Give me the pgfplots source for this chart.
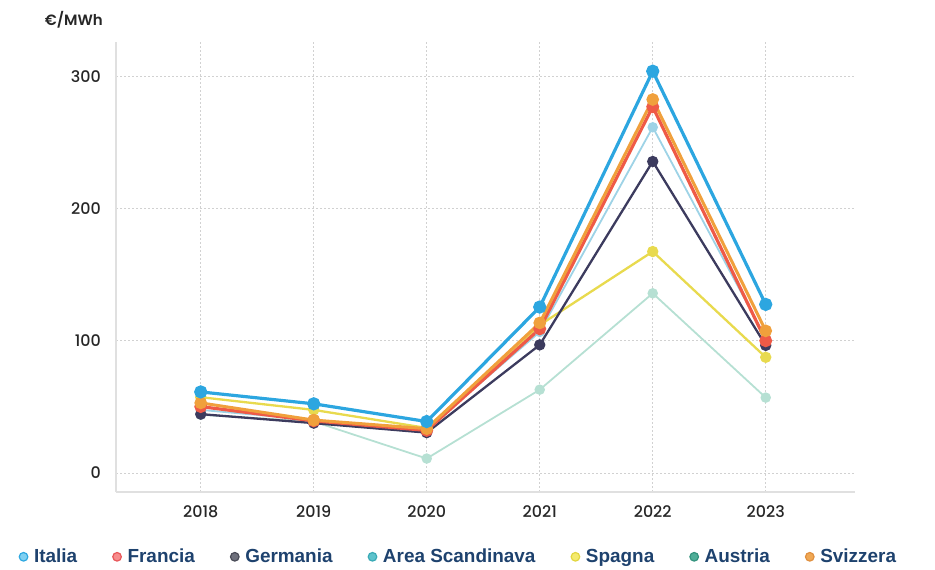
\documentclass[border=0pt]{standalone}
\usepackage{fontspec}
\setmainfont{Poppins}[UprightFont=* Medium, BoldFont=* SemiBold]
\newfontfamily\legfont{Liberation Sans}
\usepackage{pgfplots}
\pgfplotsset{compat=1.18}
\definecolor{cIt}{HTML}{2CA6E0}
\definecolor{cFr}{HTML}{EF5A47}
\definecolor{cDe}{HTML}{3C3B5E}
\definecolor{cSc}{HTML}{9ED3E6}
\definecolor{cEs}{HTML}{E8DA4E}
\definecolor{cAt}{HTML}{B6E0D3}
\definecolor{cCh}{HTML}{F0A03C}
\definecolor{lIt}{HTML}{7FD0F2}\definecolor{dIt}{HTML}{2FA8E0}
\definecolor{lFr}{HTML}{F78C8C}\definecolor{dFr}{HTML}{E8575A}
\definecolor{lDe}{HTML}{6E707C}\definecolor{dDe}{HTML}{4A4C58}
\definecolor{lSc}{HTML}{5EC3CC}\definecolor{dSc}{HTML}{3AAAB6}
\definecolor{lEs}{HTML}{F4EA6E}\definecolor{dEs}{HTML}{E2D640}
\definecolor{lAt}{HTML}{4FAE98}\definecolor{dAt}{HTML}{34937E}
\definecolor{lCh}{HTML}{F0A854}\definecolor{dCh}{HTML}{E09040}
\definecolor{cLeg}{HTML}{1E426E}
\begin{document}
\begin{tikzpicture}
\path[use as bounding box] (0,0) rectangle (935bp,570bp);
\begin{axis}[
  at={(116bp,78bp)}, anchor=south west,
  scale only axis, width=739bp, height=450bp,
  xmin=2017.25, xmax=2023.79, ymin=-14.4, ymax=326,
  xtick={2018,2019,2020,2021,2022,2023},
  ytick={0,100,200,300},
  major tick length=0pt,
  /pgf/number format/assume math mode=true,
  /pgf/number format/1000 sep={},
  tick label style={font=\fontsize{16}{18}\selectfont, text=black!85},
  yticklabel style={inner sep=0pt, anchor=east, xshift=-15bp},
  xticklabel style={inner sep=0pt, anchor=north, yshift=-13bp},
  axis lines*=left,
  axis line style={draw=black!12, line width=2bp},
  grid=major,
  major grid style={draw=black!18, line width=0.8bp, dash pattern=on 2bp off 2bp},
  ylabel={€/MWh},
  ylabel style={rotate=-90, at={(axis description cs:-0.0176,1.049)}, anchor=east, inner sep=0pt, font=\bfseries\fontsize{15}{17}\selectfont, text=black!85},
  legend columns=7,
  legend style={at={(axis description cs:-0.132,-0.144)}, anchor=west, draw=none, fill=none, inner sep=0pt,
    font=\legfont\bfseries\fontsize{19}{21}\selectfont, text=cLeg,
    /tikz/every even column/.append style={column sep=33bp}},
  legend cell align=left,
  every axis plot/.append style={mark=*},
]
\addlegendimage{legend image code/.code={\path[draw=none] (0bp,0bp) -- (13bp,0bp);\filldraw[draw=dIt, fill=lIt, line width=1.2bp] (4.5bp,0bp) circle (4.3bp);}}
\addlegendentry{Italia}
\addlegendimage{legend image code/.code={\path[draw=none] (0bp,0bp) -- (13bp,0bp);\filldraw[draw=dFr, fill=lFr, line width=1.2bp] (4.5bp,0bp) circle (4.3bp);}}
\addlegendentry{Francia}
\addlegendimage{legend image code/.code={\path[draw=none] (0bp,0bp) -- (13bp,0bp);\filldraw[draw=dDe, fill=lDe, line width=1.2bp] (4.5bp,0bp) circle (4.3bp);}}
\addlegendentry{Germania}
\addlegendimage{legend image code/.code={\path[draw=none] (0bp,0bp) -- (13bp,0bp);\filldraw[draw=dSc, fill=lSc, line width=1.2bp] (4.5bp,0bp) circle (4.3bp);}}
\addlegendentry{Area Scandinava}
\addlegendimage{legend image code/.code={\path[draw=none] (0bp,0bp) -- (13bp,0bp);\filldraw[draw=dEs, fill=lEs, line width=1.2bp] (4.5bp,0bp) circle (4.3bp);}}
\addlegendentry{Spagna}
\addlegendimage{legend image code/.code={\path[draw=none] (0bp,0bp) -- (13bp,0bp);\filldraw[draw=dAt, fill=lAt, line width=1.2bp] (4.5bp,0bp) circle (4.3bp);}}
\addlegendentry{Austria}
\addlegendimage{legend image code/.code={\path[draw=none] (0bp,0bp) -- (13bp,0bp);\filldraw[draw=dCh, fill=lCh, line width=1.2bp] (4.5bp,0bp) circle (4.3bp);}}
\addlegendentry{Svizzera}
% Austria (pale green)
\addplot[forget plot, color=cAt, line width=1.8bp, mark size=4.3bp] coordinates {
 (2018,44.0) (2019,38.9) (2020,10.9) (2021,63.0) (2022,135.9) (2023,57.0)};
% Area Scandinava (light cyan)
\addplot[forget plot, color=cSc, line width=1.8bp, mark size=4.3bp] coordinates {
 (2018,47.7) (2019,40.1) (2020,33.1) (2021,106.7) (2022,261.5) (2023,102.0)};
% Spagna
\addplot[forget plot, color=cEs, line width=2.3bp, mark size=4.5bp] coordinates {
 (2018,57.3) (2019,47.7) (2020,34.0) (2021,111.9) (2022,167.5) (2023,87.5)};
% Germania
\addplot[forget plot, color=cDe, line width=2.3bp, mark size=4.5bp] coordinates {
 (2018,44.5) (2019,37.7) (2020,30.5) (2021,96.9) (2022,235.6) (2023,96.5)};
% Francia
\addplot[forget plot, color=cFr, line width=3.2bp, mark size=4.8bp] coordinates {
 (2018,50.2) (2019,39.4) (2020,32.2) (2021,109.0) (2022,277.0) (2023,100.0)};
% Svizzera
\addplot[forget plot, color=cCh, line width=3bp, mark size=4.8bp] coordinates {
 (2018,53.0) (2019,40.0) (2020,33.5) (2021,113.5) (2022,282.5) (2023,107.5)};
% Italia
\addplot[forget plot, color=cIt, line width=3.2bp, mark size=5bp] coordinates {
 (2018,61.3) (2019,52.3) (2020,38.9) (2021,125.5) (2022,303.9) (2023,127.5)};
\end{axis}
\end{tikzpicture}
\end{document}
